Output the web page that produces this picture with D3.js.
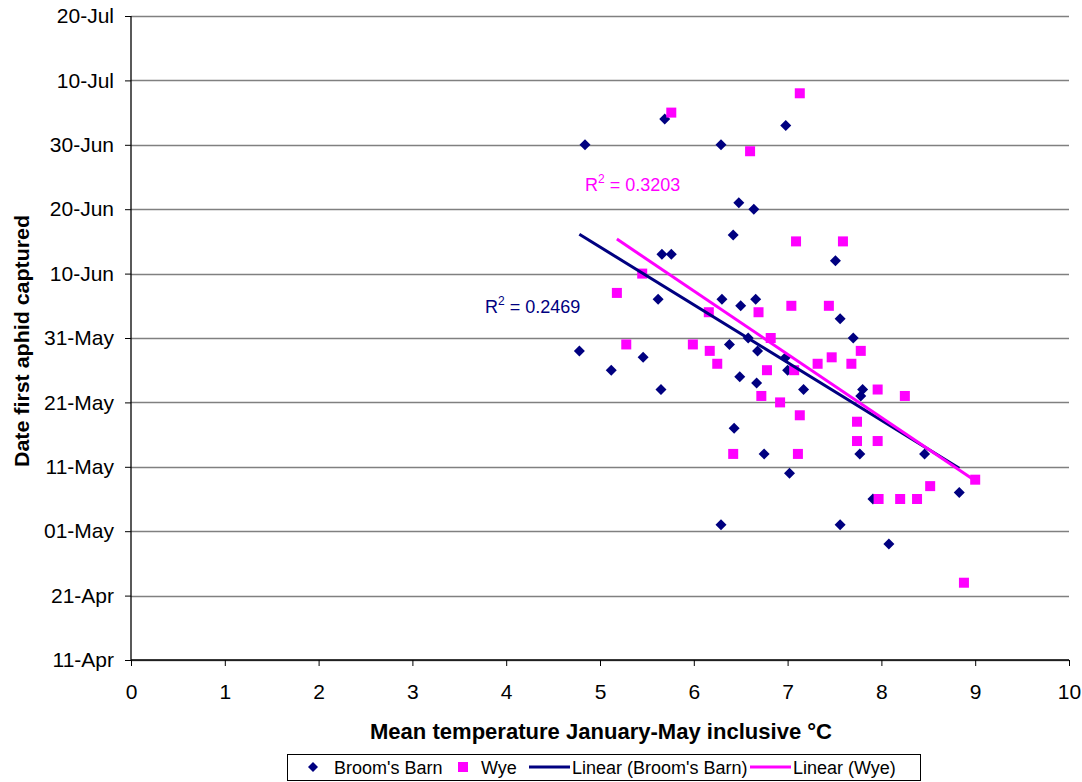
<!DOCTYPE html>
<html>
<head>
<meta charset="utf-8">
<script src="https://d3js.org/d3.v7.min.js"></script>
<style>
body { margin: 0; background: #fff; }
svg text { font-family: "Liberation Sans", Arial, sans-serif; }
</style>
</head>
<body>
<svg id="chart" width="1082" height="782"></svg>
<script>

// Broom's Barn: mean temp Jan-May vs date of first capture
var bbTemp = [4.84, 5.69, 6.29, 6.98, 6.48, 6.64, 6.42, 5.66, 5.76, 7.51,
	5.62, 6.30, 6.50, 6.66, 7.56, 7.70, 6.58, 6.38, 6.68, 4.78,
	6.98, 5.46, 5.12, 7.00, 6.49, 6.67, 5.65, 7.17, 7.80, 7.78,
	6.43, 6.75, 7.77, 8.46, 7.02, 8.83, 7.91, 6.29, 7.56, 8.08];
var bbDate = ['30-Jun', '04-Jul', '30-Jun', '03-Jul', '21-Jun', '20-Jun', '16-Jun', '13-Jun', '13-Jun', '12-Jun',
	'06-Jun', '06-Jun', '05-Jun', '06-Jun', '03-Jun', '31-May', '31-May', '30-May', '29-May', '29-May',
	'28-May', '28-May', '26-May', '26-May', '25-May', '24-May', '23-May', '23-May', '23-May', '22-May',
	'17-May', '13-May', '13-May', '13-May', '10-May', '07-May', '06-May', '02-May', '02-May', '29-Apr'];

// Wye
var wyeTemp = [5.76, 7.13, 6.60, 7.09, 7.59, 5.45, 5.18, 6.16, 6.69, 7.04,
	7.44, 6.82, 5.28, 5.99, 6.17, 7.78, 7.47, 6.25, 7.32, 7.68,
	6.78, 7.07, 7.96, 6.72, 8.25, 6.92, 7.13, 7.74, 7.74, 7.96,
	6.42, 7.11, 9.00, 8.52, 7.97, 8.20, 8.38, 8.88];
var wyeDate = ['05-Jul', '08-Jul', '29-Jun', '15-Jun', '15-Jun', '10-Jun', '07-Jun', '04-Jun', '04-Jun', '05-Jun',
	'05-Jun', '31-May', '30-May', '30-May', '29-May', '29-May', '28-May', '27-May', '27-May', '27-May',
	'26-May', '26-May', '23-May', '22-May', '22-May', '21-May', '19-May', '18-May', '15-May', '15-May',
	'13-May', '13-May', '09-May', '08-May', '06-May', '06-May', '06-May', '23-Apr'];

var yTickLabels = ['11-Apr', '21-Apr', '01-May', '11-May', '21-May', '31-May', '10-Jun', '20-Jun', '30-Jun', '10-Jul', '20-Jul'];
var xTicks = [0, 1, 2, 3, 4, 5, 6, 7, 8, 9, 10];
var r2Labels = ['0.2469', '0.3203'];
var seriesNames = ["Broom's Barn", 'Wye', "Linear (Broom's Barn)", 'Linear (Wye)'];

var navy = '#000080', magenta = '#ff00ff';

var parseDay = d3.timeParse('%d-%b-%Y');
function toDate(s) { return parseDay(s + '-2001'); }

var svg = d3.select('#chart');
var plotLeft = 131, plotRight = 1069, plotTop = 16, plotBottom = 660;

var x = d3.scaleLinear().domain([0, 10]).range([plotLeft, plotRight]);
var y = d3.scaleTime()
	.domain([toDate(yTickLabels[0]), toDate(yTickLabels[yTickLabels.length - 1])])
	.range([plotBottom, plotTop]);

// gridlines
svg.append('g')
	.selectAll('line')
	.data(yTickLabels)
	.enter()
	.append('line')
	.attr('x1', plotLeft).attr('x2', plotRight)
	.attr('y1', function(d) { return Math.round(y(toDate(d))) + 0.5; })
	.attr('y2', function(d) { return Math.round(y(toDate(d))) + 0.5; })
	.attr('stroke', '#808080')
	.attr('stroke-width', 1.5);

// axes
var yAxis = d3.axisLeft(y)
	.tickValues(yTickLabels.map(toDate))
	.tickFormat(d3.timeFormat('%d-%b'))
	.tickSize(6).tickPadding(11);
var gy = svg.append('g').attr('transform', 'translate(' + plotLeft + ',0)').call(yAxis);

var xAxis = d3.axisBottom(x).tickValues(xTicks).tickSize(6).tickPadding(18).tickFormat(d3.format('d'));
var gx = svg.append('g').attr('transform', 'translate(0,' + plotBottom + ')').call(xAxis);

[gx, gy].forEach(function(g) {
	g.select('.domain').attr('stroke', '#000').attr('stroke-width', 1.3);
	g.selectAll('.tick line').attr('stroke', '#000');
	g.selectAll('.tick text').attr('font-size', 21).attr('fill', '#000')
		.attr('font-family', '"Liberation Sans", Arial, sans-serif');
});
gx.select('.domain').attr('d', 'M' + plotLeft + ',0H' + plotRight);
gy.select('.domain').attr('d', 'M0,' + plotTop + 'V' + plotBottom);

// axis titles
svg.append('text')
	.attr('x', 601).attr('y', 739)
	.attr('text-anchor', 'middle')
	.attr('font-size', 22).attr('font-weight', 'bold')
	.attr('textLength', 462).attr('lengthAdjust', 'spacingAndGlyphs')
	.text('Mean temperature January-May inclusive °C');

svg.append('text')
	.attr('transform', 'translate(29,341) rotate(-90)')
	.attr('text-anchor', 'middle')
	.attr('font-size', 21).attr('font-weight', 'bold')
	.attr('textLength', 252).attr('lengthAdjust', 'spacingAndGlyphs')
	.text('Date first aphid captured');

// linear fit, x = temp, y = date
function fitLine(temps, dates) {
	var ys = dates.map(function(d) { return +toDate(d); });
	var mx = d3.mean(temps), my = d3.mean(ys);
	var sxy = 0, sxx = 0;
	for (var i = 0; i < temps.length; i++) {
		sxy += (temps[i] - mx) * (ys[i] - my);
		sxx += (temps[i] - mx) * (temps[i] - mx);
	}
	var b = sxy / sxx, a = my - b * mx;
	var x0 = d3.min(temps), x1 = d3.max(temps);
	return [[x0, a + b * x0], [x1, a + b * x1]];
}

var line = d3.line()
	.x(function(d) { return x(d[0]); })
	.y(function(d) { return y(new Date(d[1])); });

var bbPoints = bbTemp.map(function(t, i) { return [t, toDate(bbDate[i])]; });
var wyePoints = wyeTemp.map(function(t, i) { return [t, toDate(wyeDate[i])]; });

// Broom's Barn diamonds
svg.append('g')
	.selectAll('path')
	.data(bbPoints)
	.enter()
	.append('path')
	.attr('d', 'M0,-5.5L5.5,0L0,5.5L-5.5,0Z')
	.attr('transform', function(d) { return 'translate(' + x(d[0]) + ',' + y(d[1]) + ')'; })
	.attr('fill', navy);

// Wye squares
svg.append('g')
	.selectAll('rect')
	.data(wyePoints)
	.enter()
	.append('rect')
	.attr('x', function(d) { return x(d[0]) - 5; })
	.attr('y', function(d) { return y(d[1]) - 5; })
	.attr('width', 10).attr('height', 10)
	.attr('fill', magenta);

// trend lines
svg.append('path')
	.attr('d', line(fitLine(bbTemp, bbDate)))
	.attr('stroke', navy).attr('stroke-width', 3).attr('fill', 'none');
svg.append('path')
	.attr('d', line(fitLine(wyeTemp, wyeDate)))
	.attr('stroke', magenta).attr('stroke-width', 3).attr('fill', 'none');

// R squared labels
function r2Text(px, py, val, col) {
	var t = svg.append('text').attr('x', px).attr('y', py).attr('font-size', 18).attr('fill', col);
	t.append('tspan').text('R');
	t.append('tspan').attr('dy', -8).attr('font-size', 12).text('2');
	t.append('tspan').attr('dy', 8).text(' = ' + val);
}
r2Text(485, 313, r2Labels[0], navy);
r2Text(585, 191, r2Labels[1], magenta);

// legend
var lg = svg.append('g');
lg.append('rect')
	.attr('x', 287.5).attr('y', 754.5).attr('width', 633).attr('height', 26)
	.attr('fill', '#fff').attr('stroke', '#000').attr('stroke-width', 1);
lg.append('path').attr('d', 'M0,-5L5,0L0,5L-5,0Z')
	.attr('transform', 'translate(313,767)').attr('fill', navy);
lg.append('text').attr('x', 334).attr('y', 774).attr('font-size', 18).text(seriesNames[0]);
lg.append('rect').attr('x', 458).attr('y', 762).attr('width', 10).attr('height', 10).attr('fill', magenta);
lg.append('text').attr('x', 481).attr('y', 774).attr('font-size', 18).text(seriesNames[1]);
lg.append('line').attr('x1', 529).attr('x2', 570).attr('y1', 767).attr('y2', 767)
	.attr('stroke', navy).attr('stroke-width', 3);
lg.append('text').attr('x', 572).attr('y', 774).attr('font-size', 18).text(seriesNames[2]);
lg.append('line').attr('x1', 750).attr('x2', 791).attr('y1', 767).attr('y2', 767)
	.attr('stroke', magenta).attr('stroke-width', 3);
lg.append('text').attr('x', 793).attr('y', 774).attr('font-size', 18).text(seriesNames[3]);

</script>
</body>
</html>
